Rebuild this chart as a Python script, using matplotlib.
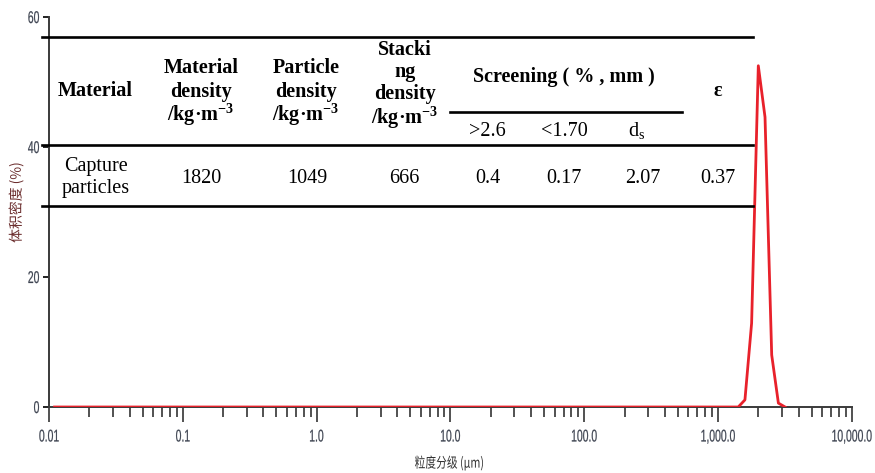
import matplotlib
matplotlib.use("Agg")
import matplotlib.pyplot as plt
from matplotlib.lines import Line2D
from matplotlib.patches import PathPatch
from matplotlib.textpath import TextPath
from matplotlib.font_manager import FontProperties
from matplotlib.transforms import Affine2D
from matplotlib.ticker import FixedLocator, LogLocator, NullFormatter

plt.rcParams['mathtext.fontset'] = 'custom'
plt.rcParams['mathtext.default'] = 'regular'

# particle size distribution, volume density (%)
size_um = [0.011, 1259, 1413, 1585, 1778, 1995, 2239, 2512, 2818, 3162]
volume_pct = [0, 0, 0, 1.1, 12.9, 52.5, 44.6, 8.0, 0.6, 0]

x_ticks = [0.01, 0.1, 1, 10, 100, 1000, 10000]
x_ticklabels = ["0.01", "0.1", "1.0", "10.0", "100.0", "1,000.0", "10,000.0"]
y_ticks = [0, 20, 40, 60]
y_ticklabels = ["0", "20", "40", "60"]
x_label = "粒度分级 (μm)"
y_label = "体积密度 (%)"

# property table printed over the plot
head_cells = [
    ["Material"],
    ["Material", "density", "/kg·m$^{-3}$"],
    ["Particle", "density", "/kg·m$^{-3}$"],
    ["Stacki", "ng", "density", "/kg·m$^{-3}$"],
    ["Screening ( % , mm )"],
    ["ε"],
]
sub_heads = [">2.6", "<1.70", "d$_{s}$"]
row_name = ["Capture", "particles"]
row_values = ["1820", "1049", "666", "0.4", "0.17", "2.07", "0.37"]

W, H = 875, 473
fig = plt.figure(figsize=(W / 100, H / 100), dpi=100)
ax = fig.add_axes([49 / W, 1 - 407 / H, (852 - 49) / W, (407 - 17) / H])

ax.plot(size_um, volume_pct, color="#e8212b", lw=2, zorder=3)
ax.set_xscale("log")
ax.set_xlim(0.01, 10000)
ax.set_ylim(0, 60)

ax.xaxis.set_major_locator(FixedLocator(x_ticks))
ax.xaxis.set_minor_locator(LogLocator(base=10, subs=range(2, 10), numticks=20))
ax.xaxis.set_minor_formatter(NullFormatter())
ax.set_yticks(y_ticks)

for s in ["top", "right"]:
    ax.spines[s].set_visible(False)
for s in ["left", "bottom"]:
    ax.spines[s].set_color("#3a3a3a")
    ax.spines[s].set_linewidth(1.4)
ax.tick_params(axis="x", which="major", direction="out", length=11, width=1.2,
               color="#333333", labelbottom=False)
ax.tick_params(axis="x", which="minor", direction="out", length=7.5, width=1.2,
               color="#333333")
ax.tick_params(axis="y", direction="out", length=4.5, width=1.4, color="#222222",
               labelleft=False)


def path_text(s, prop, x, y, sx, sy, ha="center", va="baseline", rot=0,
              color="#333333", stroke=0.0):
    """Draw s as a glyph path in pixel coords (y from top), stretched by sx/sy."""
    tp = TextPath((0, 0), s, size=100, prop=prop)
    ext = tp.get_extents()
    x0 = {"center": (ext.x0 + ext.x1) / 2, "right": ext.x1, "left": ext.x0}[ha]
    y0 = {"center": (ext.y0 + ext.y1) / 2, "baseline": 0}[va]
    tr = (Affine2D().translate(-x0, -y0).scale(sx / 100, sy / 100)
          .rotate_deg(rot).translate(x, H - y))
    fig.add_artist(PathPatch(tp, transform=tr, fc=color,
                             ec=color if stroke else "none", lw=stroke))
    return ext


# narrow sans tick labels
tick_prop = FontProperties(family=["Liberation Sans", "DejaVu Sans"])
tick_col = "#3d4350"
for v, lab in zip(x_ticks, x_ticklabels):
    px = ax.transData.transform((v, 0))[0]
    path_text(lab, tick_prop, px, 441.5, 10.4, 17, color=tick_col, stroke=0.15)
for v, lab in zip(y_ticks, y_ticklabels):
    py = H - ax.transData.transform((1, v))[1]
    path_text(lab, tick_prop, 39, py + 6, 10.4, 17, ha="right", color=tick_col,
              stroke=0.15)

# axis titles, condensed CJK
cjk = FontProperties(family=["Noto Sans CJK SC"])
e = TextPath((0, 0), x_label, size=100, prop=cjk).get_extents()
path_text(x_label, cjk, 449, 463, 68 * 100 / e.width, 15 * 100 / e.height,
          va="center", color="#333333")
e = TextPath((0, 0), y_label, size=100, prop=cjk).get_extents()
path_text(y_label, cjk, 16, 203, 79 * 100 / e.width, 15 * 100 / e.height,
          va="center", rot=90, color="#6b2d2d")


def fx(x):
    return x / W


def fy(y):
    return 1 - y / H


# table rules
for y0, x0, x1 in [(37, 42, 753), (145, 42, 753), (206, 42, 753), (112.5, 450, 682)]:
    fig.add_artist(Line2D([fx(x0), fx(x1)], [fy(y0), fy(y0)], color="black", lw=1.9))

serif = ['Liberation Serif', 'DejaVu Serif']
fs = 14.5
head_x = [95, 201, 306, 405, 564, 718]
head_base = [[96.5], [73, 96.5, 120.5], [73, 96.5, 120.5], [55, 77, 99, 123.5], [81.5], [96.5]]
for cell, cx, bases in zip(head_cells, head_x, head_base):
    for line, by in zip(cell, bases):
        fig.text(fx(cx), fy(by), line, ha="center", va="baseline", family=serif,
                 fontsize=fs, fontweight="bold")

for lab, cx in zip(sub_heads, [487, 564, 637]):
    fig.text(fx(cx), fy(136), lab, ha="center", va="baseline", family=serif, fontsize=fs)

for line, by in zip(row_name, [171.5, 193]):
    fig.text(fx(96), fy(by), line, ha="center", va="baseline", family=serif, fontsize=fs)
for val, cx in zip(row_values, [201.5, 307, 404, 488, 564, 642.5, 718]):
    fig.text(fx(cx), fy(183), val, ha="center", va="baseline", family=serif, fontsize=fs)

fig.savefig("out.png", dpi=100)
